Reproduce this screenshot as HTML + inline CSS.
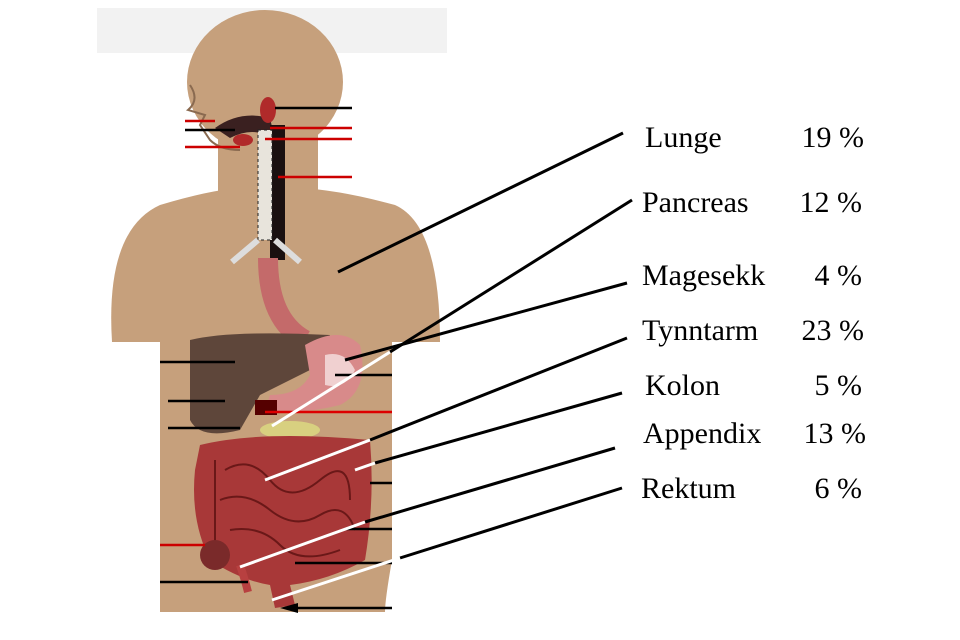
<!DOCTYPE html>
<html><head><meta charset="utf-8"><style>
body{margin:0;background:#fff;width:960px;height:640px;overflow:hidden}
svg{display:block}
text{font-family:"Liberation Serif",serif;font-size:30px;fill:#000}
</style></head><body>
<svg width="960" height="640" viewBox="0 0 960 640">
<!-- light background bits -->
<rect x="97" y="8" width="350" height="45" fill="#f2f2f2"/>
<!-- body -->
<g fill="#c6a07c">
<ellipse cx="265" cy="82" rx="78" ry="72"/>
<rect x="218" y="120" width="100" height="80"/>
<path d="M112 342 Q105 230 160 205 Q210 190 240 188 L300 188 Q340 190 395 205 Q440 225 440 342 Z"/>
<path d="M160 340 L392 340 L392 560 Q385 600 385 612 L160 612 Z"/>
</g>
<!-- face -->
<path d="M190 85 Q200 100 188 110 L205 115 L200 125 L210 140 Q220 150 240 150" fill="none" stroke="#8a6a50" stroke-width="2"/>
<path d="M215 128 Q240 110 270 118 L275 140 Q255 125 230 138 Z" fill="#3a2020"/>
<ellipse cx="243" cy="140" rx="10" ry="6" fill="#b02a2a"/>
<ellipse cx="268" cy="110" rx="8" ry="13" fill="#b02a2a"/>
<!-- trachea / esophagus -->
<rect x="270" y="125" width="15" height="135" fill="#1a1010"/>
<rect x="258" y="130" width="14" height="110" fill="#e8e4dc" stroke="#222" stroke-dasharray="3 3"/>
<path d="M258 240 L232 262 M275 240 L300 262" stroke="#ddd" stroke-width="6"/>
<path d="M268 258 Q268 320 305 340" stroke="#c46a6a" stroke-width="20" fill="none"/>
<!-- liver -->
<path d="M190 340 Q230 330 330 335 L310 370 Q290 380 260 395 L240 430 Q200 440 190 420 Z" fill="#5e463a"/>
<!-- stomach -->
<path d="M305 345 Q340 325 360 345 Q370 390 340 405 Q300 415 265 410 L270 395 Q300 395 310 375 Z" fill="#d88a8a"/>
<path d="M325 355 Q345 350 355 370 Q345 390 325 385 Z" fill="#f0d0d0"/>
<ellipse cx="290" cy="430" rx="30" ry="9" fill="#d8d080"/>
<rect x="255" y="400" width="22" height="15" fill="#500"/>
<!-- intestines -->
<path d="M200 445 Q260 430 370 440 Q375 500 365 560 Q330 580 290 585 L295 605 L275 608 L270 585 Q240 580 210 560 Q190 520 195 470 Z" fill="#a83838"/>
<g fill="none" stroke="#6a1818" stroke-width="2">
<path d="M225 470 Q250 455 270 480 T320 480 T350 500"/>
<path d="M220 500 Q245 490 270 510 T320 515 T355 530"/>
<path d="M230 530 Q260 525 280 545 T340 550"/>
<path d="M215 460 L215 550"/>
</g>
<ellipse cx="215" cy="555" rx="15" ry="15" fill="#7a2a2a"/>
<path d="M240 565 Q245 580 248 592" stroke="#b84040" stroke-width="8"/>
<!-- small tick lines -->
<g stroke-width="2.5">
<line x1="275" y1="108" x2="352" y2="108" stroke="#000"/>
<line x1="185" y1="121" x2="215" y2="121" stroke="#c00"/>
<line x1="185" y1="130" x2="235" y2="130" stroke="#000"/>
<line x1="185" y1="147" x2="240" y2="147" stroke="#c00"/>
<line x1="270" y1="128" x2="352" y2="128" stroke="#c00"/>
<line x1="265" y1="139" x2="352" y2="139" stroke="#c00"/>
<line x1="278" y1="177" x2="352" y2="177" stroke="#c00"/>
<line x1="160" y1="362" x2="235" y2="362" stroke="#000"/>
<line x1="335" y1="375" x2="392" y2="375" stroke="#000"/>
<line x1="168" y1="401" x2="225" y2="401" stroke="#000"/>
<line x1="168" y1="428" x2="240" y2="428" stroke="#000"/>
<line x1="265" y1="412" x2="392" y2="412" stroke="#d00"/>
<line x1="370" y1="483" x2="392" y2="483" stroke="#000"/>
<line x1="345" y1="529" x2="392" y2="529" stroke="#000"/>
<line x1="160" y1="545" x2="205" y2="545" stroke="#c00"/>
<line x1="160" y1="582" x2="248" y2="582" stroke="#000"/>
<line x1="295" y1="563" x2="392" y2="563" stroke="#000"/>
<line x1="290" y1="608" x2="392" y2="608" stroke="#000"/>
</g>
<polygon points="280,608 298,603 298,613" fill="#000"/>
<!-- leader lines -->
<g stroke-width="3">
<line x1="623" y1="133" x2="338" y2="272" stroke="#000"/>
<line x1="632" y1="200" x2="390" y2="352" stroke="#000"/>
<line x1="390" y1="352" x2="272" y2="426" stroke="#fff"/>
<line x1="627" y1="283" x2="345" y2="360" stroke="#000"/>
<line x1="627" y1="338" x2="370" y2="440" stroke="#000"/>
<line x1="370" y1="440" x2="265" y2="480" stroke="#fff"/>
<line x1="622" y1="393" x2="375" y2="463" stroke="#000"/>
<line x1="375" y1="463" x2="355" y2="470" stroke="#fff"/>
<line x1="615" y1="448" x2="365" y2="522" stroke="#000"/>
<line x1="365" y1="522" x2="240" y2="567" stroke="#fff"/>
<line x1="622" y1="488" x2="400" y2="558" stroke="#000"/>
<line x1="400" y1="558" x2="272" y2="600" stroke="#fff"/>
</g>
<text x="645" y="147">Lunge</text><text x="864" y="147" text-anchor="end">19 %</text>
<text x="642" y="212">Pancreas</text><text x="862" y="212" text-anchor="end">12 %</text>
<text x="642" y="285">Magesekk</text><text x="862" y="285" text-anchor="end">4 %</text>
<text x="642" y="340">Tynntarm</text><text x="864" y="340" text-anchor="end">23 %</text>
<text x="645" y="395">Kolon</text><text x="862" y="395" text-anchor="end">5 %</text>
<text x="643" y="443">Appendix</text><text x="866" y="443" text-anchor="end">13 %</text>
<text x="641" y="498">Rektum</text><text x="862" y="498" text-anchor="end">6 %</text>
</svg>
</body></html>
